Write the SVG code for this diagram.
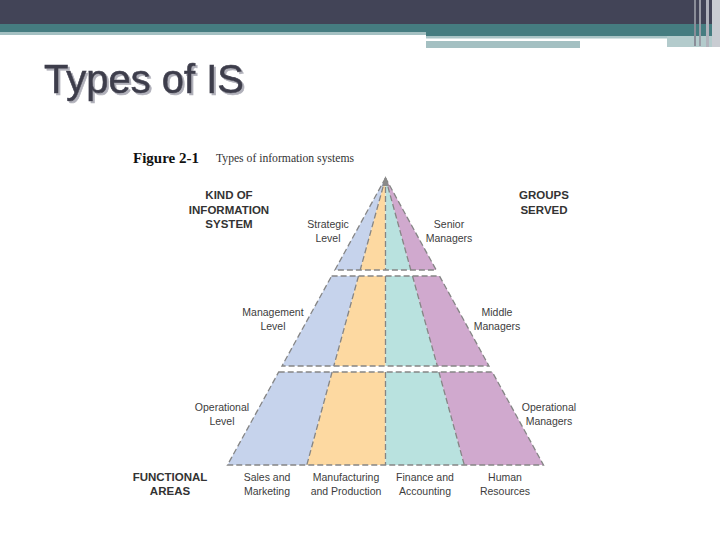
<svg xmlns="http://www.w3.org/2000/svg" width="720" height="540" viewBox="0 0 720 540">
<defs>
<filter id="shadow" x="-10%" y="-20%" width="130%" height="150%">
<feDropShadow dx="2" dy="2" stdDeviation="0.6" flood-color="#a8a8b2" flood-opacity="0.9"/>
</filter>
</defs>
<style>
.lbl{font-family:"Liberation Sans",Arial,sans-serif;font-size:10.5px;fill:#3d3d3d;text-anchor:middle}
.hdr{font-family:"Liberation Sans",Arial,sans-serif;font-size:11.5px;font-weight:bold;fill:#333;text-anchor:middle}
.dash{fill:none;stroke:#858585;stroke-width:1.3;stroke-dasharray:6 3}
.b{fill:#c6d3ec}.o{fill:#fdd9a1}.t{fill:#b9e2df}.p{fill:#d0a9ce}
</style>
<rect width="720" height="540" fill="#fff"/>
<g id="header">
<rect x="0" y="0" width="720" height="24" fill="#424457"/>
<rect x="0" y="24" width="720" height="8" fill="#457c80"/>
<rect x="0" y="32" width="426" height="3" fill="#a4c0c2"/>
<rect x="426" y="32" width="294" height="4" fill="#457c80"/>
<rect x="426" y="36" width="241" height="2.5" fill="#a9c4c6"/>
<rect x="426" y="41" width="154" height="7" fill="#a4c0c2"/>
<rect x="667" y="36" width="53" height="11" fill="#b3cbcc"/>
<rect x="694" y="0" width="2" height="46" fill="#8a8d98"/>
<rect x="699" y="0" width="2" height="46" fill="#9a9ca6"/>
<rect x="706" y="0" width="3" height="47" fill="#b0b2bb"/>
<rect x="712" y="0" width="8" height="47" fill="#c9ccd2"/>
</g>
<g id="title">
<text x="44" y="93" font-family="Liberation Sans,Arial,sans-serif" font-size="40" fill="#3e3e4c" stroke="#3e3e4c" stroke-width="0.6" textLength="200" lengthAdjust="spacingAndGlyphs" filter="url(#shadow)">Types of IS</text>
</g>
<g id="caption">
<text x="133" y="163" font-family="Liberation Serif,Times New Roman,serif" font-size="15" font-weight="bold" fill="#111">Figure 2-1</text>
<text x="216" y="162" font-family="Liberation Serif,Times New Roman,serif" font-size="12" fill="#333" textLength="138" lengthAdjust="spacingAndGlyphs">Types of information systems</text>
</g>
<g id="strategic-band">
<polygon class="b" points="385.5,178 334.9,270 360.2,270"/>
<polygon class="o" points="385.5,178 360.2,270 385.5,270"/>
<polygon class="t" points="385.5,178 385.5,270 410.8,270"/>
<polygon class="p" points="385.5,178 410.8,270 436.2,270"/>
<polyline class="dash" points="385.5,178 334.9,270 436.2,270 385.5,178"/>
<line class="dash" x1="385.5" y1="178" x2="360.2" y2="270"/>
<line class="dash" x1="385.5" y1="178" x2="385.5" y2="270"/>
<line class="dash" x1="385.5" y1="178" x2="410.8" y2="270"/>
<polygon points="385.5,176 382,186 389,186" fill="#8a8a8a"/>
</g>
<g id="management-band">
<polygon class="b" points="331.6,276 358.5,276 333.8,366 282,366"/>
<polygon class="o" points="358.5,276 385.5,276 385.5,366 333.8,366"/>
<polygon class="t" points="385.5,276 412.5,276 437.3,366 385.5,366"/>
<polygon class="p" points="412.5,276 439.5,276 489,366 437.3,366"/>
<polygon class="dash" points="331.6,276 439.5,276 489,366 282,366"/>
<line class="dash" x1="358.5" y1="276" x2="333.8" y2="366"/>
<line class="dash" x1="385.5" y1="276" x2="385.5" y2="366"/>
<line class="dash" x1="412.5" y1="276" x2="437.3" y2="366"/>
</g>
<g id="operational-band">
<polygon class="b" points="278.7,372 332.1,372 306.8,465 227.5,465"/>
<polygon class="o" points="332.1,372 385.5,372 385.5,465 306.8,465"/>
<polygon class="t" points="385.5,372 438.9,372 464.3,465 385.5,465"/>
<polygon class="p" points="438.9,372 492.3,372 543.5,465 464.3,465"/>
<polygon class="dash" points="278.7,372 492.3,372 543.5,465 227.5,465"/>
<line class="dash" x1="332.1" y1="372" x2="306.8" y2="465"/>
<line class="dash" x1="385.5" y1="372" x2="385.5" y2="465"/>
<line class="dash" x1="438.9" y1="372" x2="464.3" y2="465"/>
</g>
<g id="kind-label">
<text class="hdr" x="229" y="199">KIND OF</text>
<text class="hdr" x="229" y="213.5">INFORMATION</text>
<text class="hdr" x="229" y="228">SYSTEM</text>
</g>
<g id="groups-label">
<text class="hdr" x="544" y="199">GROUPS</text>
<text class="hdr" x="544" y="213.5">SERVED</text>
</g>
<g id="strategic-label">
<text class="lbl" x="328" y="228">Strategic</text>
<text class="lbl" x="328" y="242">Level</text>
</g>
<g id="senior-label">
<text class="lbl" x="449" y="228">Senior</text>
<text class="lbl" x="449" y="242">Managers</text>
</g>
<g id="management-label">
<text class="lbl" x="273" y="316">Management</text>
<text class="lbl" x="273" y="330">Level</text>
</g>
<g id="middle-label">
<text class="lbl" x="497" y="316">Middle</text>
<text class="lbl" x="497" y="330">Managers</text>
</g>
<g id="operational-label">
<text class="lbl" x="222" y="411">Operational</text>
<text class="lbl" x="222" y="425">Level</text>
</g>
<g id="opmanagers-label">
<text class="lbl" x="549" y="411">Operational</text>
<text class="lbl" x="549" y="425">Managers</text>
</g>
<g id="functional-label">
<text class="hdr" x="170" y="481">FUNCTIONAL</text>
<text class="hdr" x="170" y="495">AREAS</text>
</g>
<g id="sales">
<text class="lbl" x="267" y="481">Sales and</text>
<text class="lbl" x="267" y="495">Marketing</text>
</g>
<g id="manufacturing">
<text class="lbl" x="346" y="481">Manufacturing</text>
<text class="lbl" x="346" y="495">and Production</text>
</g>
<g id="finance">
<text class="lbl" x="425" y="481">Finance and</text>
<text class="lbl" x="425" y="495">Accounting</text>
</g>
<g id="hr">
<text class="lbl" x="505" y="481">Human</text>
<text class="lbl" x="505" y="495">Resources</text>
</g>
</svg>
